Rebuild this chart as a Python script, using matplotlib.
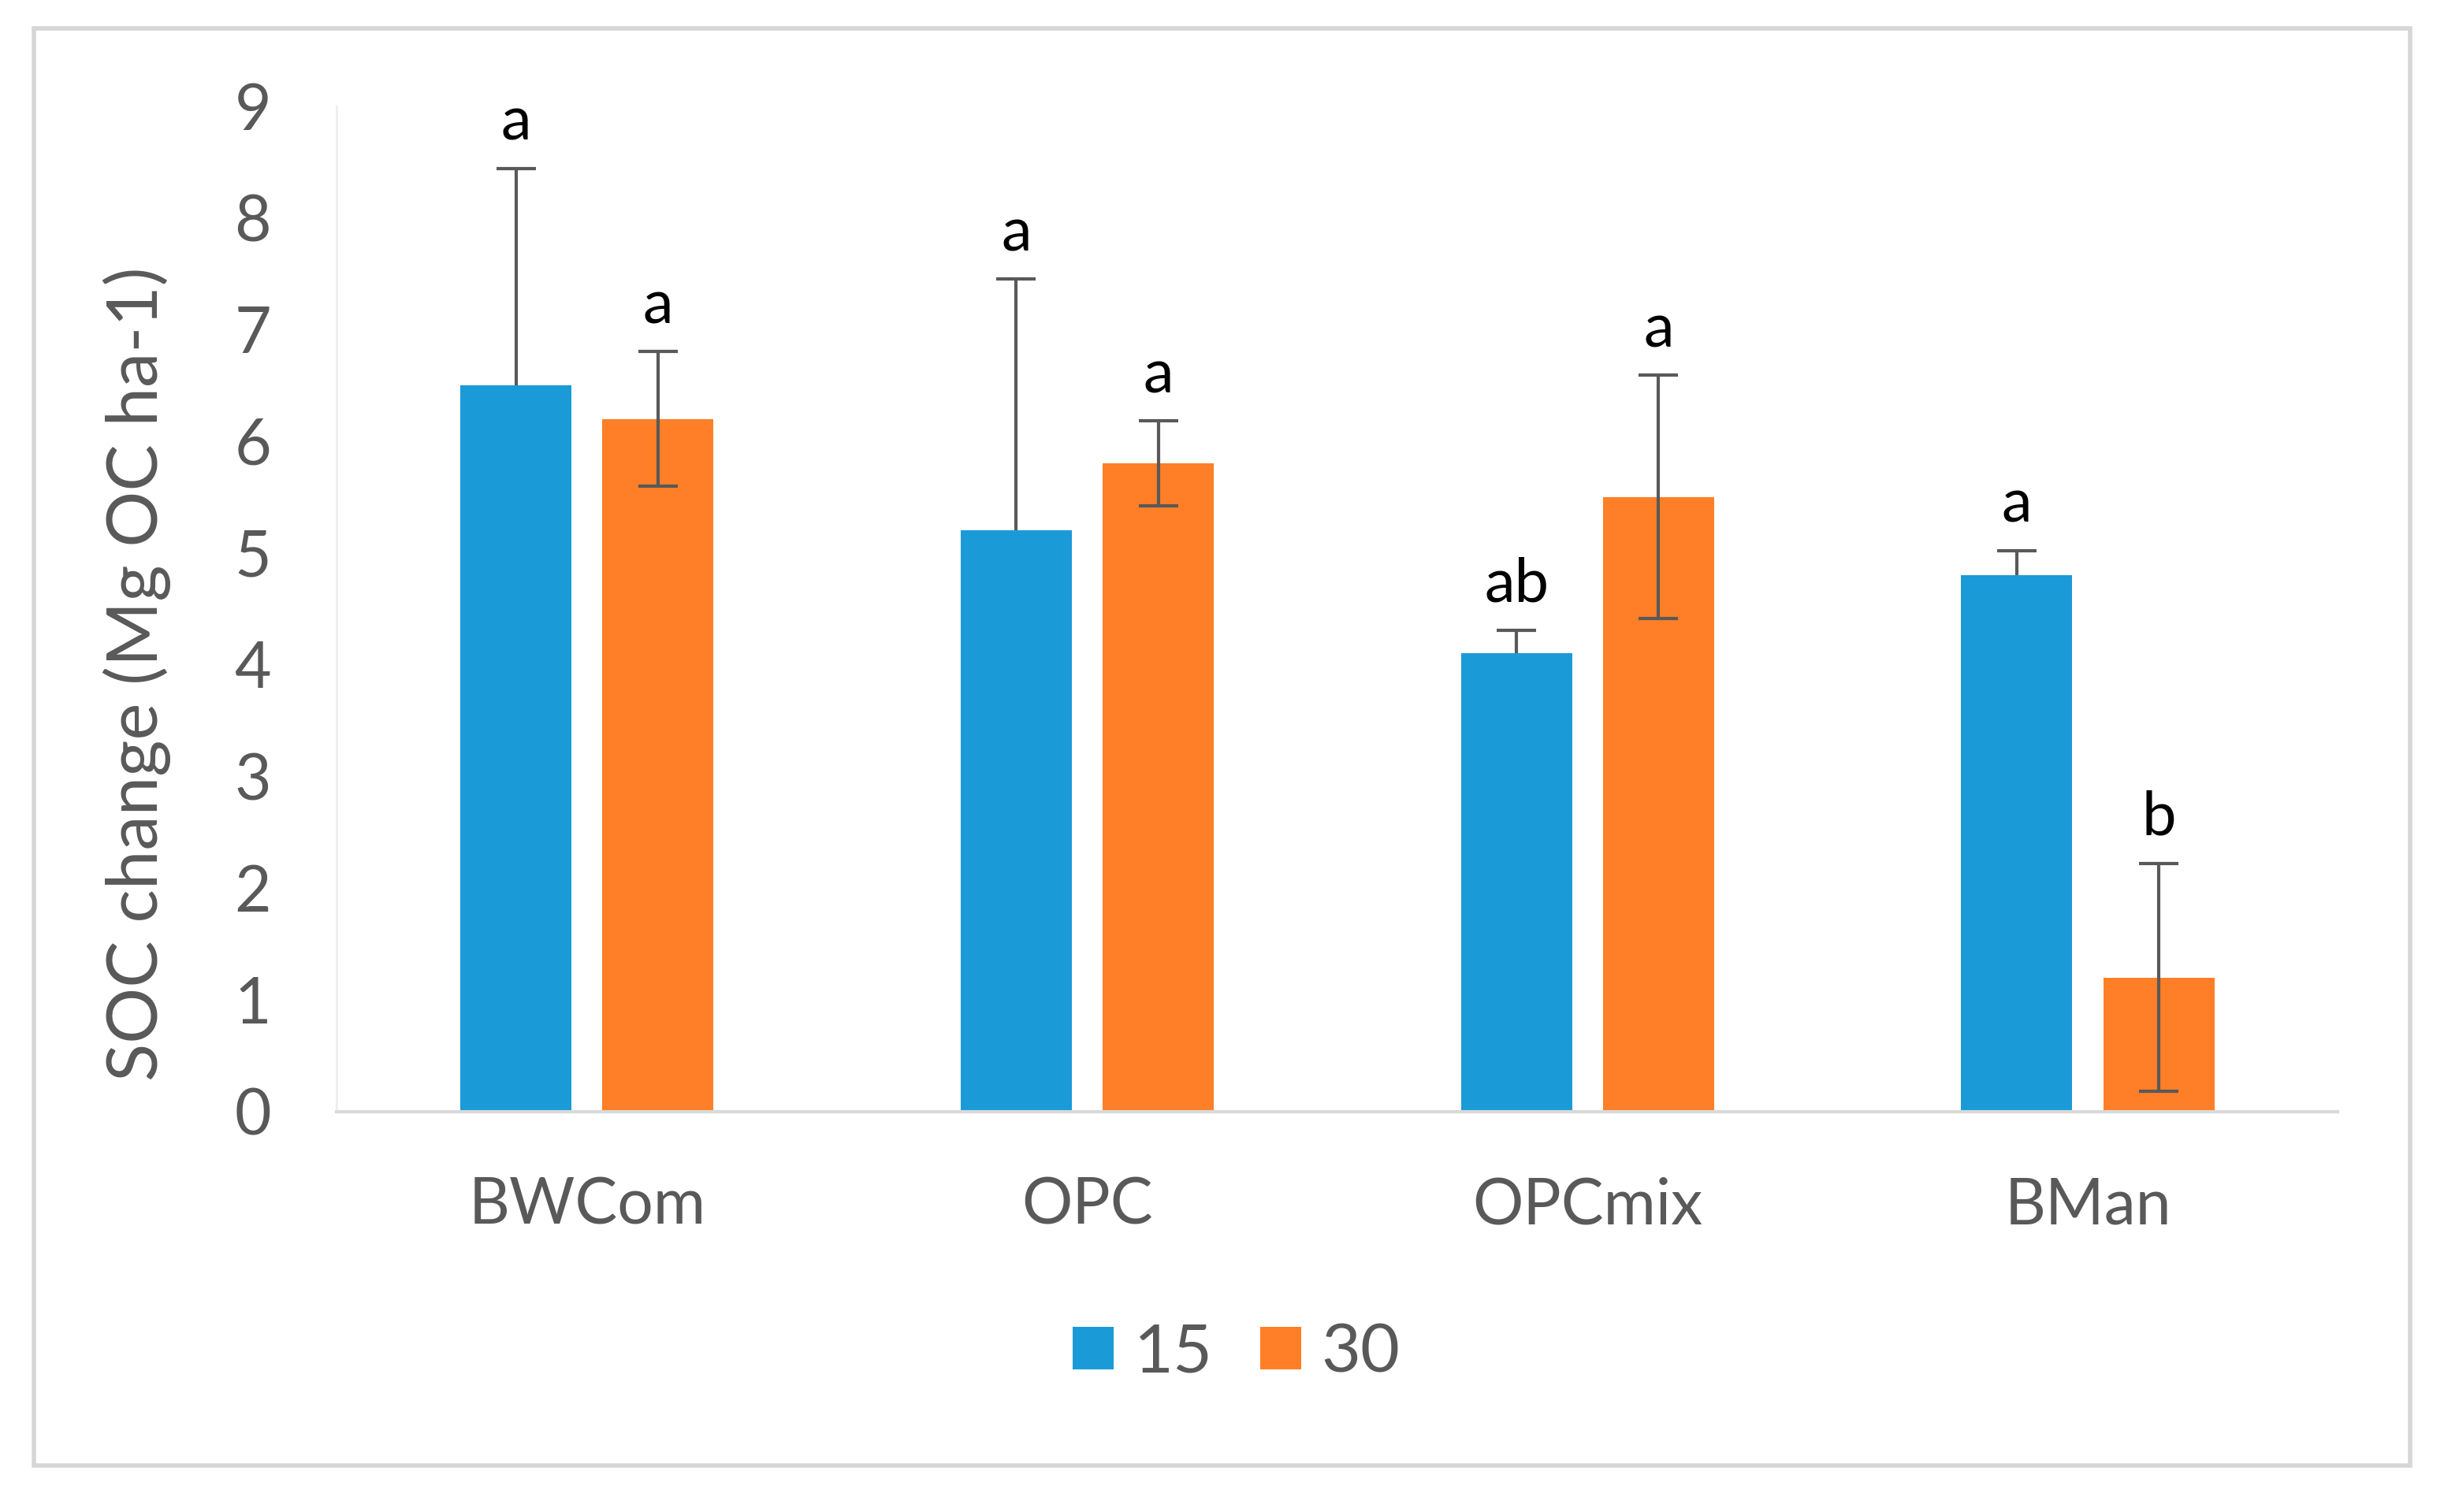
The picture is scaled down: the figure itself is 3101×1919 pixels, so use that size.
import matplotlib
matplotlib.use("Agg")
import matplotlib.pyplot as plt
import numpy as np
from matplotlib.patches import Rectangle

# Data
categories = ["BWCom", "OPC", "OPCmix", "BMan"]
series_names = ["15", "30"]
values_15 = [6.5, 5.2, 4.1, 4.8]
values_30 = [6.2, 5.8, 5.5, 1.2]
err_15 = [1.94, 2.25, 0.21, 0.22]
err_30 = [0.6, 0.38, 1.09, 1.02]
letters_15 = ["a", "a", "ab", "a"]
letters_30 = ["a", "a", "a", "b"]

blue = "#1a9bd7"
orange = "#fe7f27"
grey_text = "#595959"
err_color = "#595959"

plt.rcParams['font.family'] = ['Lato', 'DejaVu Sans']

fig = plt.figure(figsize=(15.505, 9.595), dpi=200)
ax = fig.add_axes([0.1378, 0.2649, 0.8188, 0.665])

x = np.arange(len(categories))
width = 0.222
offset = 0.142

bars_15 = ax.bar(x - offset, values_15, width, color=blue, label=series_names[0], zorder=2)
bars_30 = ax.bar(x + offset, values_30, width, color=orange, label=series_names[1], zorder=2)

# blue series shows only the upper error bar
eb = ax.errorbar(x - offset, values_15, yerr=[np.zeros(len(err_15)), err_15], fmt="none",
                 ecolor=err_color, elinewidth=1.5, capsize=9, capthick=1.5, zorder=3)
eb[1][0].set_visible(False)
ax.errorbar(x + offset, values_30, yerr=err_30, fmt="none",
            ecolor=err_color, elinewidth=1.5, capsize=9, capthick=1.5, zorder=3)

# significance letters
for xi, v, e, t in zip(x - offset, values_15, err_15, letters_15):
    ax.annotate(t, (xi, v + e), xytext=(0, 8), textcoords="offset points",
                ha="center", va="bottom", fontsize=28, color="black")
for xi, v, e, t in zip(x + offset, values_30, err_30, letters_30):
    ax.annotate(t, (xi, v + e), xytext=(0, 8), textcoords="offset points",
                ha="center", va="bottom", fontsize=28, color="black")

ax.set_xlim(-0.5, 3.5)
ax.set_ylim(0, 9)
ax.set_yticks(range(0, 10))
ax.set_xticks(x)
ax.set_xticklabels(categories)
ax.tick_params(axis="both", length=0, labelsize=29, labelcolor=grey_text)
ax.tick_params(axis="y", pad=30)
ax.tick_params(axis="x", pad=30)
ax.set_ylabel("SOC change (Mg OC ha-1)", fontsize=32, color=grey_text)
ax.yaxis.set_label_coords(-0.083, 0.435)

for side in ["top", "right"]:
    ax.spines[side].set_visible(False)
ax.spines["left"].set_color("#eeeeee")
ax.spines["left"].set_linewidth(1.0)
ax.spines["bottom"].set_color("#d9d9d9")
ax.spines["bottom"].set_linewidth(1.5)

leg = fig.legend(handles=[bars_15, bars_30], labels=series_names, loc="center",
                 bbox_to_anchor=(0.506, 0.105), ncol=2, frameon=False, fontsize=31,
                 handlelength=0.6, handleheight=0.6, handletextpad=0.3, columnspacing=0.7)
for t in leg.get_texts():
    t.set_color(grey_text)

# outer frame
fig.patches.append(Rectangle((0.014, 0.031), 0.972, 0.950, transform=fig.transFigure,
                             fill=False, edgecolor="#d6d6d6", linewidth=2))

fig.savefig("out.png", dpi=200)
